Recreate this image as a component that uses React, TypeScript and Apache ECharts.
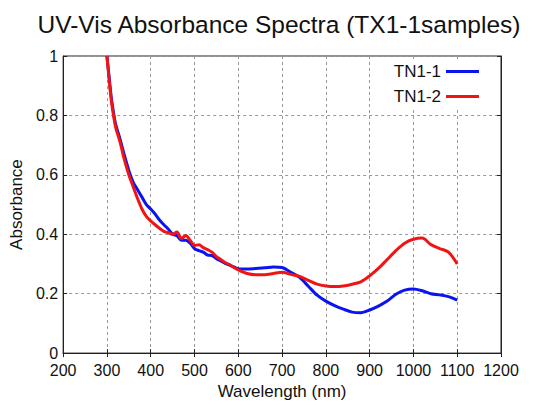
import React, { useEffect, useRef } from "react";
import * as echarts from "echarts";

const wavelengths = [300, 305, 310, 315, 320, 330, 340, 350, 360, 370, 380, 390, 400, 410, 420, 430, 440, 450, 460, 470, 480, 490, 500, 510, 520, 530, 540, 550, 560, 570, 580, 590, 600, 620, 640, 660, 680, 700, 720, 740, 760, 780, 800, 820, 840, 860, 880, 900, 920, 940, 960, 980, 1000, 1020, 1040, 1060, 1080, 1100];

const tn11 = [1.0, 0.93, 0.86, 0.81, 0.77, 0.72, 0.665, 0.615, 0.575, 0.55, 0.525, 0.5, 0.485, 0.468, 0.448, 0.432, 0.418, 0.4, 0.395, 0.38, 0.38, 0.37, 0.352, 0.345, 0.34, 0.33, 0.328, 0.318, 0.31, 0.302, 0.296, 0.29, 0.284, 0.283, 0.285, 0.287, 0.29, 0.288, 0.272, 0.255, 0.225, 0.195, 0.175, 0.16, 0.148, 0.138, 0.136, 0.145, 0.158, 0.175, 0.198, 0.212, 0.216, 0.21, 0.2, 0.196, 0.19, 0.178];

const tn12 = [1.0, 0.92, 0.85, 0.8, 0.76, 0.71, 0.65, 0.6, 0.56, 0.52, 0.485, 0.46, 0.445, 0.432, 0.42, 0.41, 0.405, 0.4, 0.408, 0.385, 0.396, 0.38, 0.362, 0.365, 0.355, 0.348, 0.34, 0.325, 0.315, 0.305, 0.298, 0.288, 0.28, 0.268, 0.264, 0.264, 0.268, 0.272, 0.265, 0.258, 0.245, 0.232, 0.226, 0.224, 0.226, 0.232, 0.24, 0.26, 0.285, 0.315, 0.345, 0.37, 0.383, 0.387, 0.365, 0.352, 0.34, 0.3];

const seriesNames = ["TN1-1", "TN1-2"];
const seriesColors = ["#0a14f0", "#f01414"];
const title = "UV-Vis Absorbance Spectra (TX1-1samples)";

export default function App() {
  const ref = useRef<HTMLDivElement>(null);
  useEffect(() => {
    if (!ref.current) return;
    const chart = echarts.init(ref.current, null, { renderer: "svg" });
    const font = "'Liberation Sans', Arial, sans-serif";
    const gridLine = { show: true, lineStyle: { color: "#999", type: [3, 3] as any, width: 1 } };
    const pair = (ys: number[]) => wavelengths.map((x, i) => [x, ys[i]]);
    chart.setOption({
      animation: false,
      backgroundColor: "#fff",
      textStyle: { fontFamily: font },
      title: {
        text: title,
        left: 274,
        top: 7,
        textAlign: "center",
        textStyle: { fontFamily: font, fontSize: 24.5, fontWeight: "normal", color: "#111" },
      },
      legend: {
        right: 60,
        top: 60,
        orient: "vertical",
        align: "right",
        itemWidth: 33,
        itemHeight: 3,
        itemGap: 8,
        icon: "rect",
        backgroundColor: "#fff",
        padding: [3, 2, 3, 6],
        textStyle: { fontFamily: font, fontSize: 17, color: "#111" },
        data: seriesNames,
      },
      grid: { left: 60, right: 40, top: 56, bottom: 50, show: true, borderColor: "#222", borderWidth: 1 },
      xAxis: [
        {
          type: "value",
          min: 200,
          max: 1200,
          interval: 100,
          name: "Wavelength (nm)",
          nameLocation: "middle",
          nameGap: 25,
          nameTextStyle: { fontFamily: font, fontSize: 17, color: "#111" },
          axisLine: { show: true, lineStyle: { color: "#222" } },
          axisTick: { inside: true, length: 4, lineStyle: { color: "#222" } },
          axisLabel: { fontFamily: font, fontSize: 16, lineHeight: 14, color: "#111", margin: 10, formatter: (v: number) => String(v) },
          splitLine: gridLine,
        },
        {
          type: "value",
          min: 200,
          max: 1200,
          interval: 100,
          position: "top",
          axisLine: { show: true, lineStyle: { color: "#222" } },
          axisTick: { inside: true, length: 4, lineStyle: { color: "#222" } },
          axisLabel: { show: false },
          splitLine: { show: false },
        },
      ],
      yAxis: [
        {
          type: "value",
          min: 0,
          max: 1,
          interval: 0.2,
          name: "Absorbance",
          nameLocation: "middle",
          nameGap: 33,
          nameTextStyle: { fontFamily: font, fontSize: 17, color: "#111" },
          axisLine: { show: true, lineStyle: { color: "#222" } },
          axisTick: { inside: true, length: 4, lineStyle: { color: "#222" } },
          axisLabel: { fontFamily: font, fontSize: 16, lineHeight: 14, color: "#111", margin: 5, formatter: (v: number) => String(v) },
          splitLine: gridLine,
        },
        {
          type: "value",
          min: 0,
          max: 1,
          interval: 0.2,
          position: "right",
          axisLine: { show: true, lineStyle: { color: "#222" } },
          axisTick: { inside: true, length: 4, lineStyle: { color: "#222" } },
          axisLabel: { show: false },
          splitLine: { show: false },
        },
      ],
      series: [
        {
          name: seriesNames[0],
          type: "line",
          data: pair(tn11),
          showSymbol: false,
          smooth: 0.3,
          lineStyle: { color: seriesColors[0], width: 3 },
          itemStyle: { color: seriesColors[0] },
          z: 2,
        },
        {
          name: seriesNames[1],
          type: "line",
          data: pair(tn12),
          showSymbol: false,
          smooth: 0.3,
          lineStyle: { color: seriesColors[1], width: 3 },
          itemStyle: { color: seriesColors[1] },
          z: 3,
        },
      ],
    });
    return () => chart.dispose();
  }, []);
  return <div ref={ref} style={{ width: 541, height: 405, position: "absolute", left: 0, top: 0 }} />;
}
